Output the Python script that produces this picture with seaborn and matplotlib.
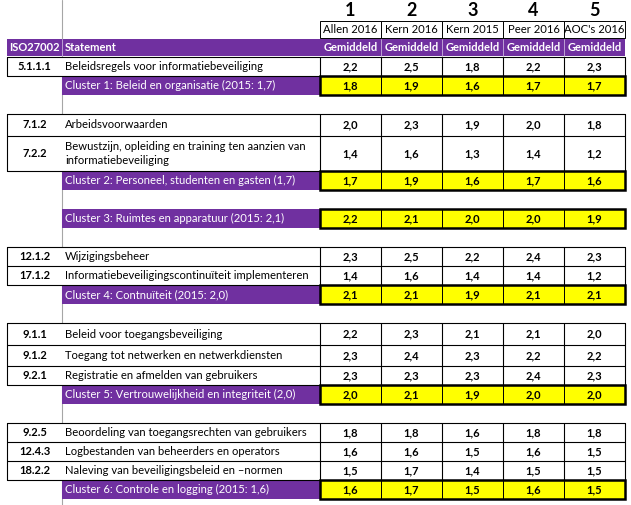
import matplotlib
matplotlib.use("Agg")
import matplotlib.pyplot as plt
from matplotlib.patches import Rectangle
import seaborn as sns

# --- data -------------------------------------------------------------
col_numbers = ["1", "2", "3", "4", "5"]
sources = ["Allen 2016", "Kern 2016", "Kern 2015", "Peer 2016", "AOC's 2016"]
value_header = "Gemiddeld"

iso_codes = ["5.1.1.1", "7.1.2", "7.2.2", "12.1.2", "17.1.2",
             "9.1.1", "9.1.2", "9.2.1", "9.2.5", "12.4.3", "18.2.2"]
statements = [
    "Beleidsregels voor informatiebeveiliging",
    "Arbeidsvoorwaarden",
    "Bewustzijn, opleiding en training ten aanzien van\ninformatiebeveiliging",
    "Wijzigingsbeheer",
    "Informatiebeveiligingscontinuïteit implementeren",
    "Beleid voor toegangsbeveiliging",
    "Toegang tot netwerken en netwerkdiensten",
    "Registratie en afmelden van gebruikers",
    "Beoordeling van toegangsrechten van gebruikers",
    "Logbestanden van beheerders en operators",
    "Naleving van beveiligingsbeleid en \u2013normen",
]
statement_values = [
    [2.2, 2.5, 1.8, 2.2, 2.3],
    [2.0, 2.3, 1.9, 2.0, 1.8],
    [1.4, 1.6, 1.3, 1.4, 1.2],
    [2.3, 2.5, 2.2, 2.4, 2.3],
    [1.4, 1.6, 1.4, 1.4, 1.2],
    [2.2, 2.3, 2.1, 2.1, 2.0],
    [2.3, 2.4, 2.3, 2.2, 2.2],
    [2.3, 2.3, 2.3, 2.4, 2.3],
    [1.8, 1.8, 1.6, 1.8, 1.8],
    [1.6, 1.6, 1.5, 1.6, 1.5],
    [1.5, 1.7, 1.4, 1.5, 1.5],
]
# cluster each statement belongs to (0-based)
statement_cluster = [0, 1, 1, 3, 3, 4, 4, 4, 5, 5, 5]

cluster_labels = [
    "Cluster 1: Beleid en organisatie (2015: 1,7)",
    "Cluster 2: Personeel, studenten en gasten (1,7)",
    "Cluster 3: Ruimtes en apparatuur (2015: 2,1)",
    "Cluster 4: Contnuïteit (2015: 2,0)",
    "Cluster 5: Vertrouwelijkheid en integriteit (2,0)",
    "Cluster 6: Controle en logging (2015: 1,6)",
]
cluster_values = [
    [1.8, 1.9, 1.6, 1.7, 1.7],
    [1.7, 1.9, 1.6, 1.7, 1.6],
    [2.2, 2.1, 2.0, 2.0, 1.9],
    [2.1, 2.1, 1.9, 2.1, 2.1],
    [2.0, 2.1, 1.9, 2.0, 2.0],
    [1.6, 1.7, 1.5, 1.6, 1.5],
]

# --- layout (pixels) ---------------------------------------------------
W, H = 631, 505
x_iso, x_stmt, x_val, col_w = 7, 62, 320, 61
x_end = x_val + col_w * len(sources)
row_h = {"7.2.2": 35, "7.1.2": 22, "9.1.1": 22, "9.1.2": 21}
default_h = 19
cluster_h = 19
gap_h = 19
top_rows = 57

PURPLE = "#7030a0"
YELLOW = "#ffff00"

sns.set_theme(style="white")
plt.rcParams["font.family"] = ["Lato", "DejaVu Sans"]
FS = 8.1    # regular text
FSB = 8.0   # bold text

fig = plt.figure(figsize=(W / 100, H / 100), dpi=100)
ax = fig.add_axes([0, 0, 1, 1])
ax.set_xlim(0, W)
ax.set_ylim(H, 0)
ax.axis("off")


def fmt(v):
    return f"{v:.1f}".replace(".", ",")


def val_center(j):
    return x_val + col_w * (j + 0.5)


# excel gridline between ISO and statement columns
ax.plot([x_stmt, x_stmt], [0, H], color="#a6a6a6", lw=0.8, zorder=0)

# header: column numbers and sources
for j, (num, src) in enumerate(zip(col_numbers, sources)):
    ax.text(val_center(j), 11, num, ha="center", va="center",
            fontsize=13, fontweight="bold", color="black")
    ax.add_patch(Rectangle((x_val + col_w * j, 21), col_w, 17,
                           fc="white", ec="black", lw=0.7, zorder=2))
    ax.text(val_center(j), 29.5, src, ha="center", va="center",
            fontsize=FS, color="black", zorder=3)

# purple header row
ax.add_patch(Rectangle((x_iso, 39), x_end - x_iso, 17, fc=PURPLE, ec="none", zorder=2))
for xs in [x_stmt] + [x_val + col_w * j for j in range(1, len(sources))]:
    ax.plot([xs, xs], [39, 56], color="#c9b3dc", lw=0.6, zorder=3)
ax.text((x_iso + x_stmt) / 2, 47.5, "ISO27002", ha="center", va="center",
        fontsize=FSB, fontweight="bold", color="white", zorder=4)
ax.text(x_stmt + 3, 47.5, "Statement", ha="left", va="center",
        fontsize=FSB, fontweight="bold", color="white", zorder=4)
for j in range(len(sources)):
    ax.text(val_center(j), 47.5, value_header, ha="center", va="center",
            fontsize=FSB, fontweight="bold", color="white", zorder=4)


def draw_statement_block(idxs, y):
    y0 = y
    for i in idxs:
        h = row_h.get(iso_codes[i], default_h)
        ax.add_patch(Rectangle((x_iso, y), x_end - x_iso, h, fc="white",
                               ec="none", zorder=1))
        ax.plot([x_iso, x_end], [y, y], color="black", lw=0.8, zorder=3)
        ax.text((x_iso + x_stmt) / 2, y + h / 2, iso_codes[i], ha="center",
                va="center", fontsize=FSB, fontweight="bold", color="black", zorder=4)
        ax.text(x_stmt + 3, y + h / 2, statements[i], ha="left", va="center",
                fontsize=FS, color="black", linespacing=1.3, zorder=4)
        for j, v in enumerate(statement_values[i]):
            ax.text(val_center(j), y + h / 2, fmt(v), ha="center", va="center",
                    fontsize=FSB, fontweight="bold", color="black", zorder=4)
        y += h
    ax.plot([x_iso, x_end], [y, y], color="black", lw=0.8, zorder=3)
    for xs in [x_iso, x_end] + [x_val + col_w * j for j in range(len(sources))]:
        ax.plot([xs, xs], [y0, y], color="black", lw=0.8, zorder=3)
    return y


def draw_cluster(k, y):
    h = cluster_h
    ax.add_patch(Rectangle((x_stmt, y), x_val - x_stmt, h, fc=PURPLE, ec="none", zorder=2))
    ax.text(x_stmt + 3, y + h / 2, cluster_labels[k], ha="left", va="center",
            fontsize=FS, color="white", zorder=4)
    for j, v in enumerate(cluster_values[k]):
        ax.add_patch(Rectangle((x_val + col_w * j, y), col_w, h, fc=YELLOW,
                               ec="black", lw=0.7, zorder=2))
        ax.text(val_center(j), y + h / 2, fmt(v), ha="center", va="center",
                fontsize=FSB, fontweight="bold", color="black", zorder=4)
    ax.add_patch(Rectangle((x_val, y), x_end - x_val, h, fc="none",
                           ec="black", lw=1.8, zorder=3))
    return y + h


y = top_rows
for k in range(len(cluster_labels)):
    idxs = [i for i, c in enumerate(statement_cluster) if c == k]
    if idxs:
        y = draw_statement_block(idxs, y)
    y = draw_cluster(k, y)
    y += gap_h

fig.savefig("out.png", dpi=100)
